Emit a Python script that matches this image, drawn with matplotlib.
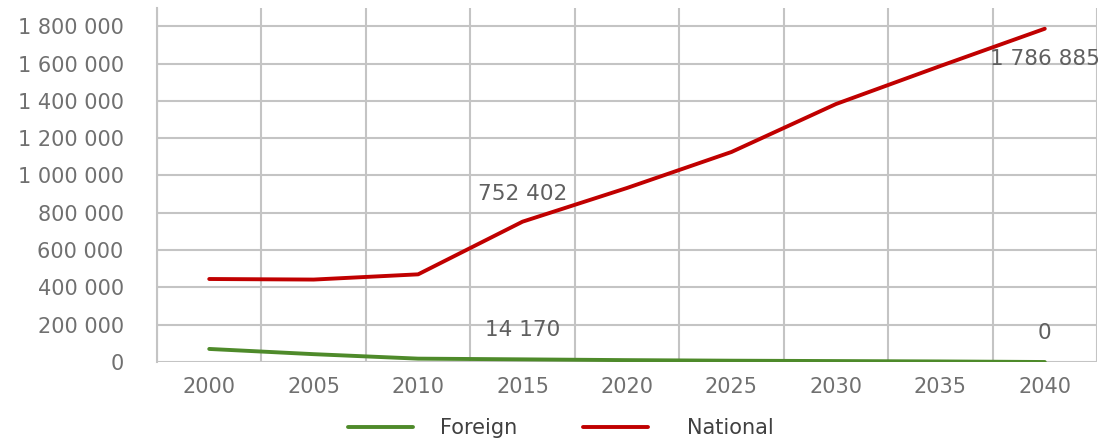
import matplotlib
matplotlib.use("Agg")
import matplotlib.pyplot as plt
from matplotlib.ticker import FuncFormatter, FixedLocator

years = ["2000", "2005", "2010", "2015", "2020", "2025", "2030", "2035", "2040"]
national = [445000, 442000, 470000, 752402, 933000, 1126000, 1383000, 1587000, 1786885]
foreign = [70000, 42000, 18000, 14170, 10000, 7000, 5000, 3000, 0]
series_names = ["Foreign", "National"]

plt.rcParams['font.family'] = ['DejaVu Sans']
fig = plt.figure(figsize=(11.03, 4.38), dpi=100)
ax = fig.add_axes([157/1103, (438-362)/438, 940/1103, (362-8)/438])

x = list(range(len(years)))
green = "#4E8A2A"
red = "#C00000"
lf, = ax.plot(x, foreign, color=green, lw=2.8, solid_capstyle='round')
ln, = ax.plot(x, national, color=red, lw=2.8, solid_capstyle='round')

ax.set_xlim(-0.5, len(years) - 0.5)
ax.set_ylim(0, 1.898e6)
ax.set_yticks([i * 200000 for i in range(10)])
ax.yaxis.set_major_formatter(FuncFormatter(lambda v, p: f"{int(v):,}".replace(",", " ")))
ax.set_xticks(x)
ax.set_xticklabels(years)
ax.xaxis.set_minor_locator(FixedLocator([i - 0.5 for i in range(len(years) + 1)]))
ax.grid(True, which='major', axis='y', color='#c4c4c4', lw=1.5)
ax.grid(True, which='minor', axis='x', color='#c4c4c4', lw=1.5)
ax.set_axisbelow(True)
for s in ['top', 'right', 'bottom']:
    ax.spines[s].set_visible(False)
ax.spines['left'].set_color('#c4c4c4')
ax.spines['left'].set_linewidth(1.5)
ax.tick_params(which='both', length=0)
ax.tick_params(axis='y', labelsize=15, colors='#707070', pad=24)
ax.tick_params(axis='x', labelsize=15, colors='#707070', pad=11)

lab_col = '#5f5f5f'
fs = 15.5
ax.annotate(f"{national[3]:,}".replace(",", " "), (3, national[3]), xytext=(0, 20),
            textcoords='offset points', ha='center', va='center', fontsize=fs, color=lab_col)
ax.annotate(f"{foreign[3]:,}".replace(",", " "), (3, foreign[3]), xytext=(0, 21),
            textcoords='offset points', ha='center', va='center', fontsize=fs, color=lab_col)
ax.annotate(f"{national[8]:,}".replace(",", " "), (8, national[8]), xytext=(0, -22),
            textcoords='offset points', ha='center', va='center', fontsize=fs, color=lab_col)
ax.annotate(f"{foreign[8]:,}".replace(",", " "), (8, foreign[8]), xytext=(0, 21),
            textcoords='offset points', ha='center', va='center', fontsize=fs, color=lab_col)

ly = (438 - 428) / 438
fig.legend([lf], [series_names[0]], loc='center left', bbox_to_anchor=(348/1103, ly),
           frameon=False, handlelength=3.1, handletextpad=1.3, borderpad=0,
           borderaxespad=0, fontsize=15, labelcolor='#404040')
fig.legend([ln], [series_names[1]], loc='center left', bbox_to_anchor=(583/1103, ly),
           frameon=False, handlelength=3.1, handletextpad=1.9, borderpad=0,
           borderaxespad=0, fontsize=15, labelcolor='#404040')

fig.savefig("out.png", dpi=100)
